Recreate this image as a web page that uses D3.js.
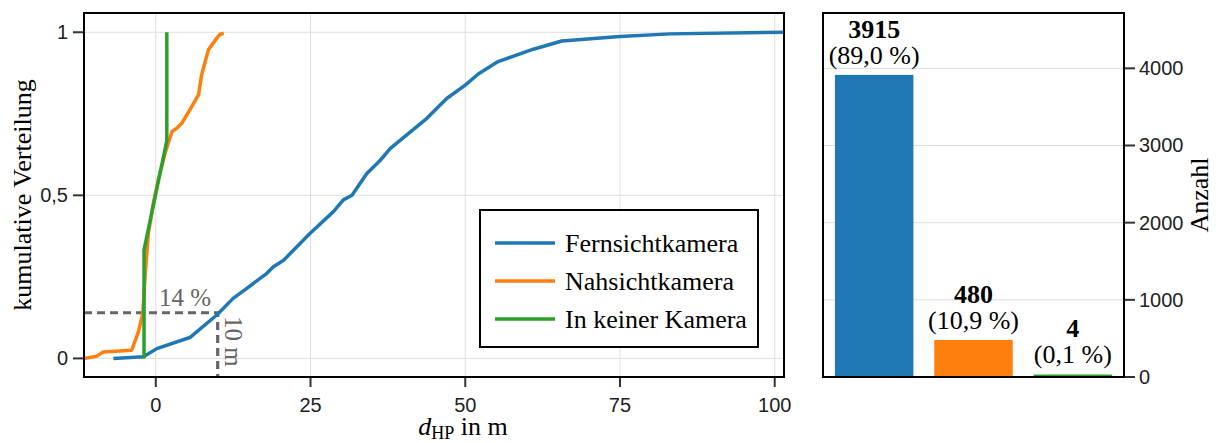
<!DOCTYPE html>
<html>
<head>
<meta charset="utf-8">
<script src="https://cdn.jsdelivr.net/npm/d3@7"></script>
<style>
  html, body { margin: 0; padding: 0; background: #fff; }
  svg { display: block; }
  .tick-label { font-family: "Liberation Sans", Arial, sans-serif; font-size: 20px; fill: #222; }
  .serif { font-family: "Liberation Serif", "Times New Roman", serif; font-size: 26px; fill: #000; }
</style>
</head>
<body>
<svg id="chart" width="1216" height="443"></svg>
<script>
// Data
const fernX = [-6.85, -2.0, 0.16, 5.5, 9.85, 12.5, 14.7, 17.9, 19.0, 20.6, 24.9, 28.7, 30.3, 31.7, 34.1, 36.2, 37.9, 43.8, 47.0, 50.0, 52.1, 55.3, 61.0, 65.6, 75.0, 83.1, 101.5];
const fernY = [0, 0.005, 0.03, 0.064, 0.133, 0.184, 0.215, 0.26, 0.281, 0.30, 0.383, 0.45, 0.486, 0.50, 0.567, 0.606, 0.644, 0.736, 0.797, 0.838, 0.872, 0.91, 0.948, 0.973, 0.987, 0.995, 1.0];

const nahX = [-11.6, -9.5, -8.5, -3.9, -2.8, -2.1, -1.7, -1.2, -0.4, 0.4, 1.5, 2.6, 3.4, 4.2, 5.5, 6.9, 7.4, 8.5, 9.85, 10.4, 11.0];
const nahY = [0, 0.007, 0.02, 0.025, 0.082, 0.138, 0.26, 0.383, 0.475, 0.547, 0.629, 0.695, 0.706, 0.721, 0.762, 0.808, 0.869, 0.946, 0.982, 0.994, 0.997];

const keinX = [-1.9, -1.9, 1.78, 1.78];
const keinY = [0, 0.333, 0.667, 1.0];

const seriesNames = ["Fernsichtkamera", "Nahsichtkamera", "In keiner Kamera"];
const seriesColors = ["#1f77b4", "#ff7f0e", "#2ca02c"];

const barCounts = [3915, 480, 4];
const barPercents = ["(89,0 %)", "(10,9 %)", "(0,1 %)"];

const xTicks = [0, 25, 50, 75, 100];
const yTicks = [0, 0.5, 1];
const yTickLabels = ["0", "0,5", "1"];
const countTicks = [0, 1000, 2000, 3000, 4000];

// marker at 10 m / 14 %
const markX = 10;
const markY = 0.14;

const svg = d3.select("#chart");

// ---------- left panel: cumulative distribution ----------
const L = { left: 84, right: 784, top: 13, bottom: 377 };
const x = d3.scaleLinear().domain([-11.6, 101.5]).range([L.left, L.right]);
const y = d3.scaleLinear().domain([-0.057, 1.059]).range([L.bottom, L.top]);

svg.append("defs").append("clipPath").attr("id", "clipL")
  .append("rect").attr("x", L.left).attr("y", L.top)
  .attr("width", L.right - L.left).attr("height", L.bottom - L.top);

const gridL = svg.append("g");
gridL.selectAll("line.vx").data(xTicks).enter().append("line")
  .attr("x1", d => x(d)).attr("x2", d => x(d))
  .attr("y1", L.top).attr("y2", L.bottom)
  .attr("stroke", "#dedede").attr("stroke-width", 1);
gridL.selectAll("line.hy").data(yTicks).enter().append("line")
  .attr("x1", L.left).attr("x2", L.right)
  .attr("y1", d => y(d)).attr("y2", d => y(d))
  .attr("stroke", "#dedede").attr("stroke-width", 1);

const line = d3.line().x(d => x(d[0])).y(d => y(d[1]));
const curves = [
  d3.zip(fernX, fernY),
  d3.zip(nahX, nahY),
  d3.zip(keinX, keinY)
];

const plotL = svg.append("g").attr("clip-path", "url(#clipL)");

// dashed marker lines
plotL.append("path")
  .attr("d", `M${L.left},${y(markY)}H${x(markX)}V${L.bottom}`)
  .attr("fill", "none").attr("stroke", "#666").attr("stroke-width", 3.2)
  .attr("stroke-dasharray", "8,5");

plotL.selectAll("path.curve").data(curves).enter().append("path")
  .attr("class", "curve")
  .attr("d", line)
  .attr("fill", "none")
  .attr("stroke", (d, i) => seriesColors[i])
  .attr("stroke-width", 3.5)
  .attr("stroke-linejoin", "round");

svg.append("text").attr("class", "serif")
  .attr("x", 159).attr("y", 306)
  .style("fill", "#666").style("font-size", "25px")
  .text("14 %");
svg.append("text").attr("class", "serif")
  .attr("transform", `translate(225,316) rotate(90)`)
  .style("fill", "#666").style("font-size", "25px")
  .text("10 m");

// frame
svg.append("rect")
  .attr("x", L.left).attr("y", L.top)
  .attr("width", L.right - L.left).attr("height", L.bottom - L.top)
  .attr("fill", "none").attr("stroke", "#000").attr("stroke-width", 2);

// x ticks
const xAx = svg.append("g");
xAx.selectAll("line").data(xTicks).enter().append("line")
  .attr("x1", d => x(d)).attr("x2", d => x(d))
  .attr("y1", L.bottom + 1).attr("y2", L.bottom + 10)
  .attr("stroke", "#333").attr("stroke-width", 2);
xAx.selectAll("text").data(xTicks).enter().append("text")
  .attr("class", "tick-label")
  .attr("x", d => x(d)).attr("y", 412)
  .attr("text-anchor", "middle")
  .text(d => d);

// y ticks
const yAx = svg.append("g");
yAx.selectAll("line").data(yTicks).enter().append("line")
  .attr("x1", L.left - 11).attr("x2", L.left - 1)
  .attr("y1", d => y(d)).attr("y2", d => y(d))
  .attr("stroke", "#333").attr("stroke-width", 2);
yAx.selectAll("text").data(yTicks).enter().append("text")
  .attr("class", "tick-label")
  .attr("x", L.left - 16).attr("y", d => y(d) + 7)
  .attr("text-anchor", "end")
  .text((d, i) => yTickLabels[i]);

// axis labels
const xl = svg.append("text").attr("class", "serif")
  .attr("x", 463).attr("y", 435).attr("text-anchor", "middle");
xl.append("tspan").style("font-style", "italic").text("d");
xl.append("tspan").attr("dy", 4).style("font-size", "18px").text("HP");
xl.append("tspan").attr("dy", -4).text(" in m");

svg.append("text").attr("class", "serif")
  .attr("transform", `translate(31,195) rotate(-90)`)
  .attr("text-anchor", "middle")
  .text("kumulative Verteilung");

// legend
const leg = svg.append("g");
leg.append("rect")
  .attr("x", 480).attr("y", 210).attr("width", 278).attr("height", 137)
  .attr("fill", "#fff").attr("stroke", "#000").attr("stroke-width", 2);
const legRows = leg.selectAll("g.row").data(seriesNames).enter().append("g")
  .attr("transform", (d, i) => `translate(0,${243 + i * 38})`);
legRows.append("line")
  .attr("x1", 495).attr("x2", 555).attr("y1", 0).attr("y2", 0)
  .attr("stroke", (d, i) => seriesColors[i]).attr("stroke-width", 3.5);
legRows.append("text").attr("class", "serif")
  .attr("x", 565).attr("y", 8.5)
  .text(d => d);

// ---------- right panel: counts ----------
const R = { left: 823, right: 1124, top: 13, bottom: 377 };
const xb = d3.scaleLinear().domain([0.485, 3.515]).range([R.left, R.right]);
const yb = d3.scaleLinear().domain([0, 4717]).range([R.bottom, R.top]);
const barW = 0.79;

svg.append("g").selectAll("line").data(countTicks.filter(d => d > 0)).enter().append("line")
  .attr("x1", R.left).attr("x2", R.right)
  .attr("y1", d => yb(d)).attr("y2", d => yb(d))
  .attr("stroke", "#dedede").attr("stroke-width", 1);

const bars = svg.append("g").selectAll("g").data(barCounts).enter().append("g");
bars.append("rect")
  .attr("x", (d, i) => xb(i + 1 - barW / 2))
  .attr("width", (d, i) => xb(i + 1 + barW / 2) - xb(i + 1 - barW / 2))
  .attr("y", d => Math.min(yb(d), R.bottom - 2.5))
  .attr("height", d => Math.max(R.bottom - yb(d), 2.5))
  .attr("fill", (d, i) => seriesColors[i]);
bars.append("text").attr("class", "serif")
  .attr("x", (d, i) => xb(i + 1))
  .attr("y", d => Math.min(yb(d), R.bottom - 3) - 37)
  .attr("text-anchor", "middle")
  .style("font-weight", "bold")
  .text(d => d);
bars.append("text").attr("class", "serif")
  .attr("x", (d, i) => xb(i + 1))
  .attr("y", d => Math.min(yb(d), R.bottom - 3) - 11)
  .attr("text-anchor", "middle")
  .text((d, i) => barPercents[i]);

svg.append("rect")
  .attr("x", R.left).attr("y", R.top)
  .attr("width", R.right - R.left).attr("height", R.bottom - R.top)
  .attr("fill", "none").attr("stroke", "#000").attr("stroke-width", 2);

const yAxR = svg.append("g");
yAxR.selectAll("line").data(countTicks).enter().append("line")
  .attr("x1", R.right + 1).attr("x2", R.right + 11)
  .attr("y1", d => yb(d)).attr("y2", d => yb(d))
  .attr("stroke", "#333").attr("stroke-width", 2);
yAxR.selectAll("text").data(countTicks).enter().append("text")
  .attr("class", "tick-label")
  .attr("x", R.right + 15).attr("y", d => yb(d) + 7)
  .text(d => d);

svg.append("text").attr("class", "serif")
  .attr("transform", `translate(1208,195) rotate(-90)`)
  .attr("text-anchor", "middle")
  .text("Anzahl");
</script>
</body>
</html>
